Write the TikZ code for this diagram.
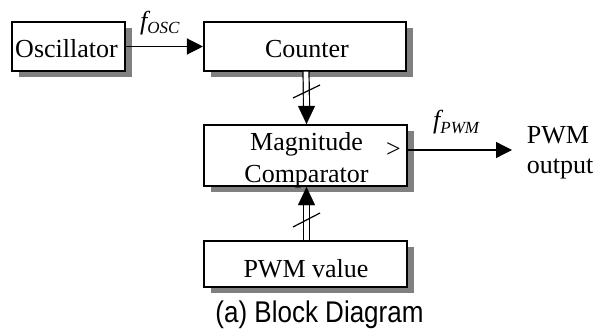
\documentclass[tikz,border=0pt]{standalone}
\usepackage{fontspec}
\usepackage{graphicx}
\setmainfont{Liberation Serif}
\newfontfamily\arialfont{Liberation Sans}
\usetikzlibrary{arrows.meta,shadows,calc}
\begin{document}
\begin{tikzpicture}[x=1pt,y=-1pt,
  blk/.style={draw, line width=1.6pt, fill=white, inner sep=0pt,
    drop shadow={shadow xshift=7pt, shadow yshift=-6pt, fill=black!50, opacity=1}},
  txt/.style={font=\fontsize{26}{31}\selectfont, inner sep=0pt, anchor=base},
  flabel/.style={font=\fontsize{26}{26}\selectfont\itshape, inner sep=0pt, anchor=base west},
  sig/.style={line width=1.3pt, -{Triangle[length=16pt,width=16pt]}},
  bus/.style={line width=1.2pt, double distance=4.8pt},
  busarrow/.style={line width=0.1pt, -{Triangle[length=18pt,width=17pt]}},
  slash/.style={line width=1.2pt}]
\useasboundingbox (0,0) rectangle (594,329);

% blocks
\node[blk, minimum width=113.5pt, minimum height=48.5pt] (osc) at (68.5,46.5) {};
\node[blk, minimum width=202.5pt, minimum height=48.5pt] (counter) at (305,46.5) {};
\node[blk, minimum width=203.5pt, minimum height=61.5pt] (comp) at (305.5,155.5) {};
\node[blk, minimum width=203.5pt, minimum height=46.5pt] (pwmv) at (305.5,264) {};

% texts
\node[txt] (osct) at (66.5,57) {Oscillator};
\node[txt] (cntt) at (307,57) {Counter};
\node[txt] (compt1) at (306.5,150) {Magnitude};
\node[txt] (compt2) at (306.5,182) {Comparator};
\node[txt] (gt) at (393.5,157) {>};
\node[txt] (pwmvt) at (306,277) {PWM value};
\node[txt] (out1) at (558,143) {PWM};
\node[txt] (out2) at (560,173) {output};

% labels
\node[flabel] (fosc) at (140,30) {f\raisebox{-4pt}{\fontsize{17}{17}\selectfont OSC}};
\node[flabel] (fpwm) at (433,128) {f\raisebox{-5pt}{\fontsize{17}{17}\selectfont PWM}};

% connectors
\draw[sig] (osc.east) -- (counter.west);
\coordinate (outend) at (512,150);
\draw[sig] (comp.east |- outend) -- (outend);

\draw[bus] ([xshift=1pt]counter.south) -- ([xshift=1pt,yshift=18pt]comp.north);
\draw[busarrow] ([xshift=1pt,yshift=18pt]comp.north) -- ([xshift=1pt]comp.north);
\draw[slash] (293,98) -- (320,85);

\draw[bus] ([xshift=1pt]pwmv.north) -- ([xshift=1pt,yshift=-17pt]comp.south);
\draw[busarrow] ([xshift=1pt,yshift=-17pt]comp.south) -- ([xshift=1pt]comp.south);
\draw[slash] (293,227) -- (320,213);

% caption
\node[font=\arialfont\fontsize{26}{26}\selectfont, anchor=base, inner sep=0pt] (cap)
  at (319.5,322) {\scalebox{1}[1.15]{(a) Block Diagram}};
\end{tikzpicture}
\end{document}
